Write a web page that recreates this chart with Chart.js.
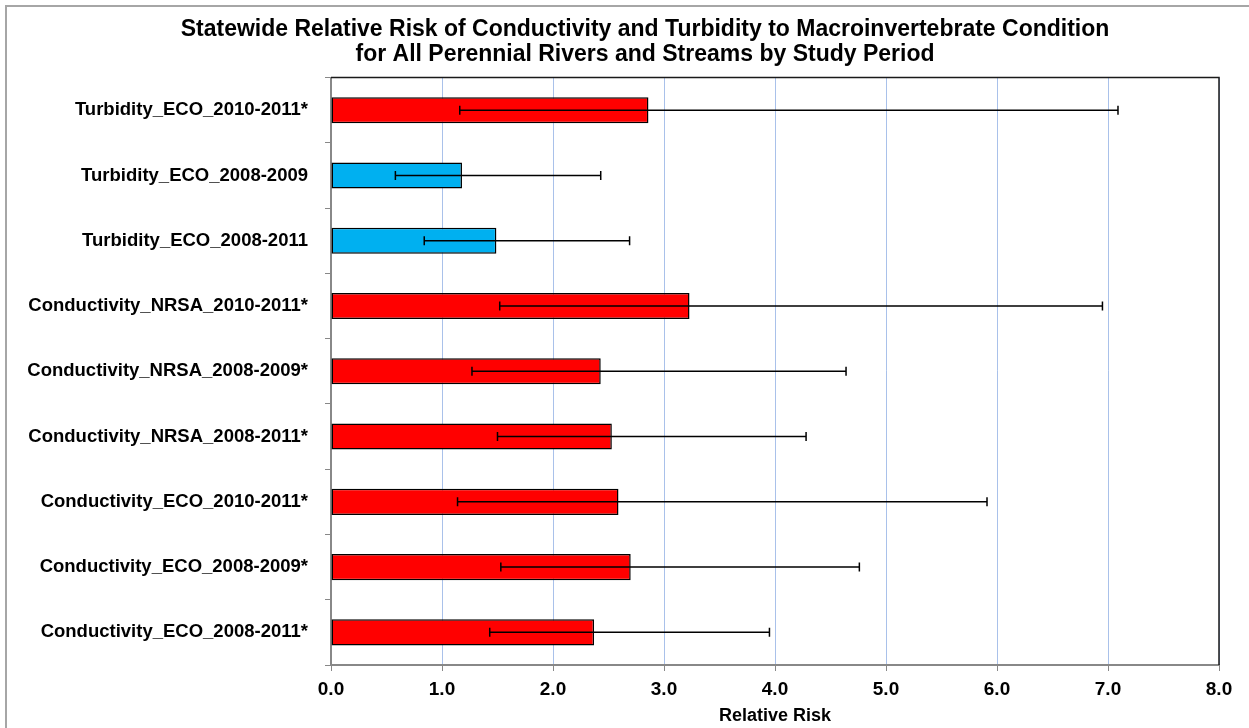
<!DOCTYPE html>
<html>
<head>
<meta charset="utf-8">
<script src="https://cdn.jsdelivr.net/npm/chart.js@4.4.1/dist/chart.umd.min.js"></script>
<style>
  html, body { margin: 0; padding: 0; background: #ffffff; }
  #wrap { width: 1249px; height: 728px; }
</style>
</head>
<body>
<div id="wrap"><canvas id="c" width="1249" height="728"></canvas></div>
<script>
// ---- Data ----
const categories = [
  "Turbidity_ECO_2010-2011*",
  "Turbidity_ECO_2008-2009",
  "Turbidity_ECO_2008-2011",
  "Conductivity_NRSA_2010-2011*",
  "Conductivity_NRSA_2008-2009*",
  "Conductivity_NRSA_2008-2011*",
  "Conductivity_ECO_2010-2011*",
  "Conductivity_ECO_2008-2009*",
  "Conductivity_ECO_2008-2011*"
];
const relativeRisk = [2.86, 1.18, 1.49, 3.23, 2.43, 2.53, 2.59, 2.70, 2.37];
const lowerCI      = [1.16, 0.58, 0.84, 1.52, 1.27, 1.50, 1.14, 1.53, 1.43];
const upperCI      = [7.09, 2.43, 2.69, 6.95, 4.64, 4.28, 5.91, 4.76, 3.95];
const significant  = [true, false, false, true, true, true, true, true, true];
const xTickValues  = [0, 1, 2, 3, 4, 5, 6, 7, 8];
const titleLines = [
  "Statewide Relative Risk of Conductivity and Turbidity to Macroinvertebrate Condition",
  "for All Perennial Rivers and Streams by Study Period"
];
const xAxisTitle = "Relative Risk";

// ---- Styles ----
const RED = "#ff0000";
const BLUE = "#00b0f0";
const barColors = significant.map(s => s ? RED : BLUE);
const FONT = "'Liberation Sans', Arial, sans-serif";

const errorBarPlugin = {
  id: "errorBars",
  afterDatasetsDraw(chart) {
    const meta = chart.getDatasetMeta(0);
    const xs = chart.scales.x;
    const ctx = chart.ctx;
    ctx.save();
    ctx.strokeStyle = "#000000";
    ctx.lineWidth = 1.5;
    meta.data.forEach((bar, i) => {
      const y = bar.y;
      const x1 = xs.getPixelForValue(lowerCI[i]);
      const x2 = xs.getPixelForValue(upperCI[i]);
      ctx.beginPath();
      ctx.moveTo(x1, y); ctx.lineTo(x2, y);
      ctx.moveTo(x1, y - 4.5); ctx.lineTo(x1, y + 4.5);
      ctx.moveTo(x2, y - 4.5); ctx.lineTo(x2, y + 4.5);
      ctx.stroke();
    });
    ctx.restore();
  }
};

const framePlugin = {
  id: "frames",
  afterLayout(chart) {
    // centre the title over the framed chart region (frame extends past the right edge)
    if (chart.titleBlock) {
      chart.titleBlock.left = 41;
      chart.titleBlock.right = chart.width;
    }
  },
  beforeDraw(chart) {
    const ctx = chart.ctx;
    ctx.save();
    ctx.fillStyle = "#ffffff";
    ctx.fillRect(0, 0, chart.width, chart.height);
    ctx.strokeStyle = "#a6a6a6";
    ctx.lineWidth = 2;
    ctx.beginPath();
    ctx.moveTo(6, chart.height + 2);
    ctx.lineTo(6, 6);
    ctx.lineTo(chart.width + 2, 6);
    ctx.stroke();
    ctx.restore();
  },
  afterDraw(chart) {
    const a = chart.chartArea;
    const ctx = chart.ctx;
    ctx.save();
    ctx.strokeStyle = "#1a1a1a";
    ctx.lineWidth = 1.5;
    ctx.beginPath();
    ctx.moveTo(a.left, a.top);
    ctx.lineTo(a.right, a.top);
    ctx.lineTo(a.right, a.bottom);
    ctx.stroke();
    ctx.restore();
  }
};

new Chart(document.getElementById("c"), {
  type: "bar",
  data: {
    labels: categories,
    datasets: [{
      data: relativeRisk,
      backgroundColor: barColors,
      borderColor: "#000000",
      borderWidth: 1.5,
      borderSkipped: false,
      categoryPercentage: 1.0,
      barPercentage: 0.4
    }]
  },
  options: {
    indexAxis: "y",
    responsive: false,
    animation: false,
    devicePixelRatio: 1,
    layout: { padding: { left: 16, right: 30, top: 2, bottom: 0 } },
    plugins: {
      legend: { display: false },
      tooltip: { enabled: false },
      title: {
        display: true,
        text: titleLines,
        color: "#000000",
        font: { family: FONT, size: 23, weight: "bold", lineHeight: 1.1 },
        padding: { top: 15, bottom: 10 }
      }
    },
    scales: {
      x: {
        type: "linear",
        min: 0,
        max: 8,
        afterBuildTicks(axis) { axis.ticks = xTickValues.map(v => ({ value: v })); },
        afterFit(axis) { axis.height = 63; },
        grid: {
          color: "#a9c1ea",
          lineWidth: 1,
          tickColor: "#888888",
          tickLength: 6,
          drawTicks: true
        },
        border: { display: true, color: "#888888", width: 2 },
        ticks: {
          color: "#000000",
          padding: 7,
          font: { family: FONT, size: 19, weight: "bold" },
          callback: v => Number(v).toFixed(1)
        },
        title: {
          display: true,
          text: xAxisTitle,
          color: "#000000",
          font: { family: FONT, size: 18, weight: "bold", lineHeight: 1.2 },
          padding: { top: 0, bottom: 1 }
        }
      },
      y: {
        type: "category",
        afterFit(axis) { axis.width = 315; },
        grid: {
          display: true,
          drawOnChartArea: false,
          drawTicks: true,
          offset: true,
          tickLength: 6,
          tickColor: "#888888",
          color: "#888888"
        },
        border: { display: true, color: "#888888", width: 2 },
        ticks: {
          color: "#000000",
          padding: 17,
          autoSkip: false,
          font: { family: FONT, size: 18.5, weight: "bold" }
        }
      }
    }
  },
  plugins: [framePlugin, errorBarPlugin]
});
</script>
</body>
</html>
